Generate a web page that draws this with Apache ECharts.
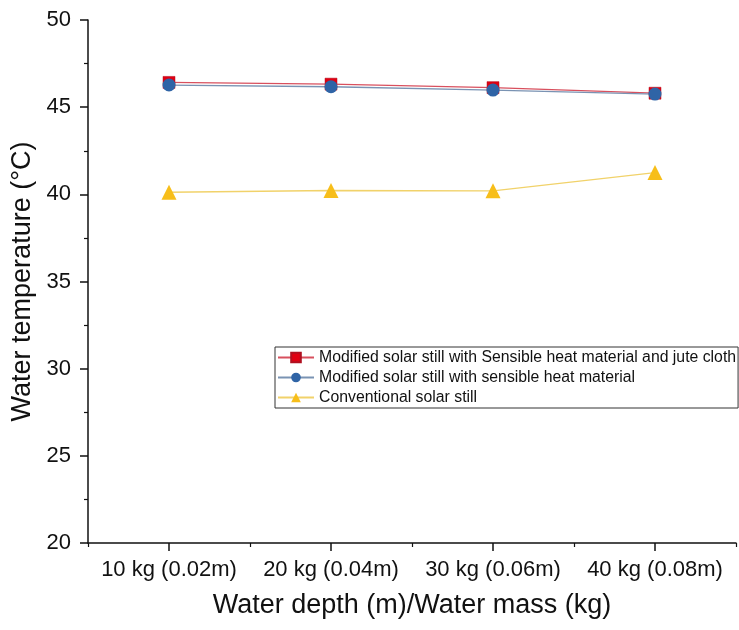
<!DOCTYPE html>
<html>
<head>
<meta charset="utf-8">
<script src="https://cdn.jsdelivr.net/npm/echarts@6/dist/echarts.min.js"></script>
<style>html,body{margin:0;padding:0;background:#fff;}#c{width:739px;height:630px;}</style>
</head>
<body>
<div id="c"></div>
<script>
const categories = ['10 kg (0.02m)', '20 kg (0.04m)', '30 kg (0.06m)', '40 kg (0.08m)'];
const sensibleJute = [46.42, 46.32, 46.12, 45.80];
const sensible = [46.27, 46.17, 45.98, 45.75];
const conventional = [40.12, 40.22, 40.20, 41.25];
const yTicks = { min: 20, max: 50, interval: 5 };
const seriesNames = [
  'Modified solar still with Sensible heat material and jute cloth',
  'Modified solar still with sensible heat material',
  'Conventional solar still'
];

const font = '"Liberation Sans", Arial, sans-serif';
const chart = echarts.init(document.getElementById('c'));
chart.setOption({
  animation: false,
  backgroundColor: '#fff',
  grid: { left: 88, right: 3, top: 20, bottom: 87, containLabel: false },
  legend: {
    orient: 'vertical',
    left: 275, top: 347,
    padding: [2, 2, 2, 2],
    itemGap: 3,
    itemWidth: 36, itemHeight: 12,
    borderColor: '#333', borderWidth: 1,
    textStyle: { fontFamily: font, fontSize: 15.8, color: '#111', lineHeight: 17 },
    data: seriesNames
  },
  xAxis: [
    {
      type: 'category', data: categories, boundaryGap: true,
      name: 'Water depth (m)/Water mass (kg)', nameLocation: 'middle', nameGap: 49,
      nameTextStyle: { fontFamily: font, fontSize: 27, color: '#111' },
      axisLine: { show: true, lineStyle: { color: '#111', width: 1.5 } },
      axisTick: { show: true, alignWithLabel: true, interval: 0, length: 8, lineStyle: { color: '#111', width: 1.5 } },
      axisLabel: { interval: 0, hideOverlap: false, fontFamily: font, fontSize: 22, color: '#111', margin: 16 },
      splitLine: { show: false }
    },
    {
      type: 'category', data: categories, boundaryGap: true, position: 'bottom',
      axisLine: { show: false },
      axisTick: { show: true, interval: 0, length: 4, lineStyle: { color: '#111', width: 1.2 } },
      axisLabel: { show: false },
      splitLine: { show: false }
    }
  ],
  yAxis: {
    type: 'value', min: yTicks.min, max: yTicks.max, interval: yTicks.interval,
    name: 'Water temperature (\u00B0C)', nameLocation: 'middle', nameGap: 47,
    nameTextStyle: { fontFamily: font, fontSize: 27, color: '#111' },
    axisLine: { show: true, lineStyle: { color: '#111', width: 1.5 } },
    axisTick: { show: true, length: 8, lineStyle: { color: '#111', width: 1.5 } },
    minorTick: { show: true, splitNumber: 2, length: 4, lineStyle: { color: '#111', width: 1.2 } },
    axisLabel: { fontFamily: font, fontSize: 22, color: '#111', margin: 17 },
    splitLine: { show: false }
  },
  series: [
    {
      name: seriesNames[0], type: 'line', data: sensibleJute,
      symbol: 'rect', symbolSize: 12,
      itemStyle: { color: '#e00012', borderColor: '#b01020', borderWidth: 0.5 },
      lineStyle: { color: '#d8505e', width: 1.3 }
    },
    {
      name: seriesNames[1], type: 'line', data: sensible,
      symbol: 'circle', symbolSize: 13,
      itemStyle: { color: '#2f64a6' },
      lineStyle: { color: '#7a93b3', width: 1.3 }
    },
    {
      name: seriesNames[2], type: 'line', data: conventional,
      symbol: 'triangle', symbolSize: 15,
      itemStyle: { color: '#f7be1a' },
      lineStyle: { color: '#f1d26a', width: 1.3 }
    }
  ]
});
</script>
</body>
</html>
